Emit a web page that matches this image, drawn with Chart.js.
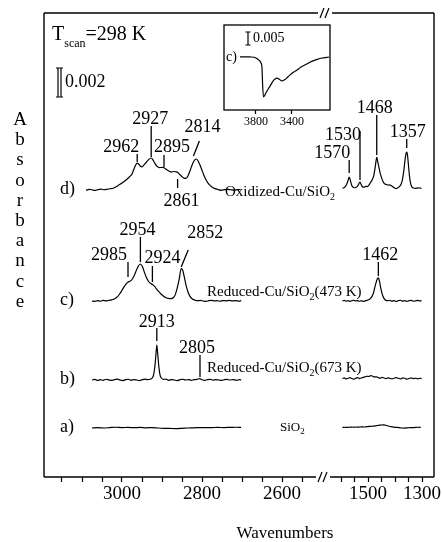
<!DOCTYPE html>
<html>
<head>
<meta charset="utf-8">
<script src="https://cdn.jsdelivr.net/npm/chart.js@4.4.1/dist/chart.umd.min.js"></script>
<style>
  html, body { margin: 0; padding: 0; background: #fff; }
  #wrap { position: relative; width: 443px; height: 542px; }
  #main { position: absolute; left: 0; top: 0; }
  #inset { position: absolute; left: 214px; top: 15px; }
</style>
</head>
<body>
<div id="wrap">
  <canvas id="main" width="443" height="542"></canvas>
  <canvas id="inset" width="126" height="125"></canvas>
</div>
<script>
// ---- Spectra: [wavenumber (cm^-1), absorbance (x10^-3)] ----
// d) Oxidized-Cu/SiO2, C-H stretching region
const specD_CH = [[3090,0.00],[3082,0.04],[3075,0.02],[3068,-0.03],[3060,0.03],[3052,0.06],[3045,0.02],[3037,0.05],[3030,0.09],[3022,0.12],[3014,0.24],[3006,0.38],[3000,0.48],[2993,0.62],[2987,0.76],[2981,0.92],[2976,1.06],[2971,1.38],[2966,1.72],[2962,1.86],[2958,1.78],[2954,1.64],[2950,1.60],[2945,1.74],[2940,1.90],[2934,2.08],[2927,2.21],[2922,2.05],[2917,1.80],[2912,1.62],[2906,1.55],[2900,1.56],[2895,1.54],[2889,1.42],[2883,1.32],[2877,1.24],[2871,1.28],[2866,1.26],[2861,1.22],[2856,1.08],[2850,0.92],[2845,0.82],[2840,0.80],[2835,0.98],[2829,1.40],[2823,1.85],[2818,2.08],[2814,2.14],[2810,2.02],[2805,1.72],[2800,1.36],[2795,1.00],[2789,0.66],[2783,0.40],[2776,0.22],[2768,0.10],[2760,0.04],[2752,-0.02],[2744,0.03],[2736,0.05],[2728,0.02],[2720,-0.01],[2712,0.03],[2704,0.04]];
// d) Oxidized-Cu/SiO2, fingerprint region
const specD_FP = [[1595,0.12],[1588,0.18],[1582,0.30],[1576,0.55],[1570,0.90],[1565,0.62],[1560,0.30],[1554,0.18],[1548,0.16],[1542,0.22],[1536,0.36],[1530,0.55],[1526,0.40],[1521,0.22],[1515,0.20],[1509,0.26],[1503,0.24],[1497,0.34],[1491,0.52],[1485,0.70],[1479,1.00],[1474,1.55],[1471,1.95],[1468,2.28],[1465,2.02],[1461,1.66],[1456,1.22],[1450,0.84],[1444,0.56],[1438,0.42],[1432,0.38],[1426,0.34],[1420,0.36],[1414,0.30],[1408,0.22],[1402,0.14],[1396,0.10],[1390,0.16],[1384,0.24],[1378,0.40],[1373,0.70],[1368,1.30],[1363,2.10],[1360,2.50],[1357,2.62],[1354,2.40],[1351,1.80],[1347,1.00],[1343,0.50],[1338,0.22],[1332,0.14],[1324,0.12],[1316,0.15],[1308,0.13],[1302,0.12]];
// c) Reduced-Cu/SiO2 (473 K)
const specC_CH = [[3075,0.00],[3068,-0.03],[3061,0.03],[3054,-0.02],[3047,0.04],[3040,0.00],[3033,0.05],[3026,0.08],[3019,0.14],[3012,0.28],[3006,0.48],[3000,0.74],[2995,0.97],[2990,1.16],[2985,1.30],[2980,1.36],[2975,1.48],[2970,1.72],[2965,2.05],[2960,2.36],[2954,2.55],[2949,2.38],[2944,1.98],[2939,1.62],[2934,1.36],[2929,1.22],[2924,1.14],[2919,1.02],[2914,0.84],[2908,0.64],[2902,0.46],[2896,0.32],[2890,0.22],[2884,0.18],[2878,0.16],[2872,0.22],[2867,0.42],[2862,0.88],[2857,1.50],[2852,2.24],[2848,2.10],[2844,1.62],[2840,1.10],[2835,0.62],[2830,0.32],[2824,0.14],[2818,0.06],[2811,0.02],[2804,0.04],[2797,0.00],[2790,-0.03],[2783,0.02],[2776,0.04],[2769,0.00],[2762,0.02],[2755,-0.02],[2748,0.03],[2740,0.01],[2732,0.04],[2724,0.00],[2716,0.02],[2708,-0.01],[2702,0.02]];
const specC_FP = [[1595,0.00],[1588,0.04],[1581,-0.02],[1574,0.03],[1567,-0.03],[1560,0.02],[1553,0.05],[1546,0.00],[1539,0.03],[1532,-0.02],[1525,0.02],[1518,-0.03],[1511,0.01],[1504,0.04],[1498,0.08],[1492,0.16],[1486,0.30],[1480,0.56],[1475,0.95],[1470,1.30],[1466,1.52],[1462,1.59],[1458,1.38],[1454,0.98],[1450,0.62],[1445,0.32],[1440,0.14],[1434,0.04],[1428,0.02],[1420,0.05],[1412,-0.02],[1404,0.03],[1396,-0.04],[1388,0.02],[1380,0.05],[1372,-0.01],[1364,0.03],[1356,-0.03],[1348,0.02],[1340,0.04],[1332,-0.02],[1324,0.01],[1316,0.04],[1308,0.00],[1302,0.02]];
// b) Reduced-Cu/SiO2 (673 K)
const specB_CH = [[3075,0.00],[3068,0.04],[3061,-0.03],[3054,0.02],[3047,-0.02],[3040,0.05],[3033,0.01],[3026,-0.03],[3019,0.03],[3012,0.06],[3005,0.00],[2998,-0.04],[2991,0.02],[2984,0.05],[2977,-0.02],[2970,0.03],[2963,0.00],[2956,-0.04],[2949,0.03],[2942,0.06],[2936,0.02],[2930,0.05],[2925,0.12],[2921,0.35],[2918,0.90],[2915,1.80],[2913,2.41],[2911,1.90],[2908,0.95],[2905,0.35],[2901,0.12],[2896,0.04],[2890,0.06],[2883,-0.02],[2876,0.03],[2869,0.00],[2862,-0.04],[2855,0.02],[2848,0.05],[2841,0.00],[2834,0.03],[2827,-0.02],[2820,0.02],[2813,0.04],[2806,0.10],[2800,0.02],[2793,-0.03],[2786,0.02],[2779,0.04],[2772,-0.01],[2765,0.03],[2758,0.00],[2751,-0.03],[2744,0.02],[2737,0.04],[2730,0.00],[2722,0.03],[2714,-0.02],[2707,0.02],[2702,0.01]];
const specB_FP = [[1595,0.10],[1588,0.14],[1581,0.08],[1574,0.12],[1567,0.16],[1560,0.10],[1553,0.06],[1546,0.12],[1539,0.16],[1532,0.10],[1525,0.14],[1518,0.18],[1511,0.22],[1504,0.26],[1497,0.24],[1490,0.30],[1483,0.26],[1476,0.20],[1469,0.22],[1462,0.16],[1455,0.12],[1448,0.18],[1441,0.14],[1434,0.10],[1427,0.14],[1420,0.12],[1412,0.08],[1404,0.12],[1396,0.16],[1388,0.12],[1380,0.08],[1372,0.14],[1364,0.12],[1356,0.06],[1348,0.10],[1340,0.14],[1332,0.10],[1324,0.12],[1316,0.08],[1308,0.12],[1302,0.10]];
// a) SiO2
const specA_CH = [[3075,0.00],[3060,0.02],[3045,0.00],[3030,0.03],[3015,0.05],[3000,0.03],[2985,0.04],[2970,0.02],[2955,0.04],[2940,0.01],[2925,0.03],[2910,0.00],[2895,-0.02],[2880,-0.03],[2865,-0.04],[2850,-0.02],[2835,0.00],[2820,0.01],[2805,0.03],[2790,0.02],[2775,0.03],[2760,0.04],[2745,0.03],[2730,0.04],[2715,0.05],[2702,0.04]];
const specA_FP = [[1595,0.03],[1585,0.05],[1575,0.04],[1565,0.06],[1555,0.05],[1545,0.07],[1535,0.06],[1525,0.08],[1515,0.07],[1505,0.09],[1495,0.11],[1485,0.12],[1475,0.14],[1465,0.17],[1455,0.20],[1445,0.22],[1435,0.19],[1425,0.14],[1415,0.09],[1405,0.06],[1395,0.04],[1385,0.02],[1375,0.00],[1365,-0.01],[1355,0.01],[1345,0.03],[1335,0.02],[1325,0.04],[1315,0.05],[1305,0.04]];
// Inset: trace c) in the O-H stretching region
const insetC_OH = [[3978,0.0],[3920,0.05],[3867,0.0],[3820,-0.1],[3800,-0.4],[3767,-1.2],[3744,-2.3],[3733,-4.2],[3726,-10.8],[3717,-15.4],[3700,-14.6],[3689,-13.8],[3667,-12.5],[3644,-11.2],[3620,-9.8],[3600,-8.8],[3567,-8.1],[3544,-8.5],[3511,-9.2],[3478,-8.7],[3450,-7.8],[3422,-6.9],[3380,-5.8],[3344,-5.0],[3300,-3.9],[3256,-3.1],[3210,-2.2],[3167,-1.5],[3120,-0.9],[3067,-0.4],[2989,0.0]];

// Vertical stacking of the traces (absorbance x10^-3)
const traceNames = ['a)', 'b)', 'c)', 'd)'];
const traceOffsets = [3.38, 6.69, 12.14, 19.79];

// Marked band positions (cm^-1)
const peaksD = [2962, 2927, 2895, 2861, 2814, 1570, 1530, 1468, 1357];
const peaksC = [2985, 2954, 2924, 2852, 1462];
const peaksB = [2913, 2805];

// Axis ticks
const ticksLeft = [3150, 3100, 3050, 3000, 2950, 2900, 2850, 2800, 2750, 2700, 2650, 2600, 2550];
const labelsLeft = [3000, 2800, 2600];
const ticksRight = [1600, 1550, 1500, 1450, 1400, 1350, 1300];
const labelsRight = [1500, 1300];
const ticksInset = [3800, 3400];

// Scale bars (absorbance)
const scaleBarMain = 0.002;
const scaleBarInset = 0.005;

// ---- Drawing ----
const SERIF = '"Liberation Serif", "Times New Roman", serif';
Chart.defaults.font.family = SERIF;
Chart.defaults.color = '#000';

const lineStyle = {
  borderColor: '#000', borderWidth: 1.2, pointRadius: 0, fill: false,
  cubicInterpolationMode: 'monotone', yAxisID: 'y'
};
function trace(points, offset, axisId) {
  return Object.assign({ data: points.map(([w, a]) => ({ x: w, y: a + offset })), xAxisID: axisId }, lineStyle);
}

// Label placement per marked band: text centre offset, text baseline, tick span (or slash)
const peakLayout = {
  2962: { dx: -16, ty: 152, t: [154, 162] },
  2927: { dx: -1, ty: 124, t: [126, 157] },
  2895: { dx: 8, ty: 152, t: [155, 167] },
  2861: { dx: 4, ty: 206, t: [179, 188] },
  2814: { dx: 6, ty: 132, s: [[-3, 156], [3, 141]] },
  1570: { dx: -17, ty: 158, t: [160, 173] },
  1530: { dx: -17, ty: 140, t: [131, 180] },
  1468: { dx: -2, ty: 113, t: [115, 155] },
  1357: { dx: 1, ty: 137, t: [139, 148] },
  2985: { dx: -19, ty: 260, t: [262, 277] },
  2954: { dx: -3, ty: 235, t: [237, 262] },
  2924: { dx: 10, ty: 263, t: [266, 282] },
  2852: { dx: 24, ty: 238, s: [[0, 267], [7, 250]] },
  1462: { dx: 2, ty: 260, t: [262, 276] },
  2913: { dx: 0, ty: 327, t: [328, 341] },
  2805: { dx: -3, ty: 353, t: [355, 377] }
};

function textRuns(ctx, x, y, runs) {
  // runs: [text, fontSize, baselineShift]
  let cx = x;
  for (const [t, size, dy] of runs) {
    ctx.font = size + 'px ' + SERIF;
    ctx.fillText(t, cx, y + dy);
    cx += ctx.measureText(t).width;
  }
}

function breakMark(ctx, x, y) {
  ctx.save();
  ctx.fillStyle = '#fff';
  ctx.fillRect(x - 2, y - 2, 14, 4);
  ctx.restore();
  ctx.beginPath();
  ctx.moveTo(x, y + 5); ctx.lineTo(x + 4, y - 5);
  ctx.moveTo(x + 5, y + 5); ctx.lineTo(x + 9, y - 5);
  ctx.stroke();
}

const decorations = {
  id: 'decorations',
  afterDraw(chart) {
    const { ctx, chartArea: ca, scales } = chart;
    const y = scales.y;
    ctx.save();
    ctx.strokeStyle = '#000';
    ctx.fillStyle = '#000';

    // frame with axis break
    ctx.lineWidth = 1.4;
    ctx.beginPath();
    ctx.moveTo(ca.left, ca.top); ctx.lineTo(ca.left, ca.bottom);
    ctx.moveTo(ca.right, ca.top); ctx.lineTo(ca.right, ca.bottom);
    ctx.moveTo(ca.left, ca.top); ctx.lineTo(ca.right, ca.top);
    ctx.moveTo(ca.left, ca.bottom); ctx.lineTo(ca.right, ca.bottom);
    ctx.stroke();
    ctx.lineWidth = 1.2;
    breakMark(ctx, 320, ca.top);
    breakMark(ctx, 318, ca.bottom);

    // trace letters
    ctx.textBaseline = 'middle';
    ctx.textAlign = 'left';
    ctx.font = '18px ' + SERIF;
    traceNames.forEach((n, i) => ctx.fillText(n, 60, y.getPixelForValue(traceOffsets[i]) - 1));

    // sample labels
    ctx.textBaseline = 'alphabetic';
    textRuns(ctx, 225, 196, [['Oxidized-Cu/SiO', 15, 0], ['2', 10, 4]]);
    textRuns(ctx, 207, 296, [['Reduced-Cu/SiO', 15, 0], ['2', 10, 4], ['(473 K)', 15, 0]]);
    textRuns(ctx, 207, 372, [['Reduced-Cu/SiO', 15, 0], ['2', 10, 4], ['(673 K)', 15, 0]]);
    textRuns(ctx, 280, 431, [['SiO', 13, 0], ['2', 9, 3]]);

    // marked bands
    ctx.font = '18px ' + SERIF;
    ctx.textAlign = 'center';
    ctx.lineWidth = 1.3;
    const mark = (w, axisId) => {
      const L = peakLayout[w];
      const px = scales[axisId].getPixelForValue(w);
      ctx.fillText(String(w), px + L.dx, L.ty);
      ctx.beginPath();
      if (L.t) { ctx.moveTo(px, L.t[0]); ctx.lineTo(px, L.t[1]); }
      else { ctx.moveTo(px + L.s[0][0], L.s[0][1]); ctx.lineTo(px + L.s[1][0], L.s[1][1]); }
      ctx.stroke();
    };
    [...peaksD, ...peaksC, ...peaksB].forEach(w => mark(w, w > 2000 ? 'xL' : 'xR'));

    // scan temperature
    ctx.textAlign = 'left';
    textRuns(ctx, 52, 40, [['T', 20, 0], ['scan', 12, 7], ['=298 K', 20, 0]]);

    // absorbance scale bar
    const barTop = 68;
    const barLen = y.getPixelForValue(0) - y.getPixelForValue(scaleBarMain * 1000);
    ctx.lineWidth = 1.2;
    ctx.beginPath();
    ctx.moveTo(58, barTop); ctx.lineTo(58, barTop + barLen);
    ctx.moveTo(61, barTop); ctx.lineTo(61, barTop + barLen);
    ctx.moveTo(56, barTop); ctx.lineTo(63, barTop);
    ctx.moveTo(56, barTop + barLen); ctx.lineTo(63, barTop + barLen);
    ctx.stroke();
    ctx.font = '18px ' + SERIF;
    ctx.textBaseline = 'middle';
    ctx.fillText(String(scaleBarMain), 65, barTop + barLen / 2);

    // axis titles
    ctx.textAlign = 'center';
    ctx.font = '19px ' + SERIF;
    'Absorbance'.split('').forEach((ch, i) => ctx.fillText(ch, 20, 120 + i * 20.2));
    ctx.font = '17px ' + SERIF;
    ctx.textBaseline = 'alphabetic';
    ctx.fillText('Wavenumbers', 285, 538);
    ctx.restore();
  }
};

function xAxis(min, max, tickVals, labelVals) {
  return {
    type: 'linear', axis: 'x', reverse: true, min, max,
    position: { y: 0 },
    border: { display: false },
    grid: { drawOnChartArea: false, drawTicks: true, tickLength: 5, color: '#000', tickWidth: 1.2 },
    afterBuildTicks: (s) => { s.ticks = tickVals.map(v => ({ value: v })); },
    ticks: {
      autoSkip: false, maxRotation: 0, padding: 1, color: '#000',
      font: { size: 19, family: SERIF },
      callback: (v) => labelVals.includes(v) ? String(v) : ''
    }
  };
}

new Chart(document.getElementById('main'), {
  type: 'line',
  data: {
    datasets: [
      trace(specD_CH, traceOffsets[3], 'xL'), trace(specD_FP, traceOffsets[3], 'xR'),
      trace(specC_CH, traceOffsets[2], 'xL'), trace(specC_FP, traceOffsets[2], 'xR'),
      trace(specB_CH, traceOffsets[1], 'xL'), trace(specB_FP, traceOffsets[1], 'xR'),
      trace(specA_CH, traceOffsets[0], 'xL'), trace(specA_FP, traceOffsets[0], 'xR')
    ]
  },
  options: {
    responsive: false, animation: false, devicePixelRatio: 1,
    layout: { padding: { left: 44, top: 13, right: 9, bottom: 65 } },
    plugins: { legend: { display: false }, tooltip: { enabled: false } },
    scales: {
      y: { type: 'linear', display: false, min: 0, max: 32 },
      xL: xAxis(2220, 3195, ticksLeft, labelsLeft),
      xR: xAxis(1256, 2700, ticksRight, labelsRight)
    }
  },
  plugins: [decorations]
});

// ---- Inset ----
const insetFrame = {
  id: 'insetFrame',
  afterDraw(chart) {
    const { ctx, chartArea: ca, scales } = chart;
    ctx.save();
    ctx.strokeStyle = '#000'; ctx.fillStyle = '#000';
    ctx.lineWidth = 1.3;
    ctx.strokeRect(ca.left, ca.top, ca.right - ca.left, ca.bottom - ca.top);
    // scale bar
    const len = scales.y.getPixelForValue(0) - scales.y.getPixelForValue(scaleBarInset * 1000);
    const bx = 34, by = 17;
    ctx.lineWidth = 1.2;
    ctx.beginPath();
    ctx.moveTo(bx, by); ctx.lineTo(bx, by + len);
    ctx.moveTo(bx - 2.5, by); ctx.lineTo(bx + 2.5, by);
    ctx.moveTo(bx - 2.5, by + len); ctx.lineTo(bx + 2.5, by + len);
    ctx.stroke();
    ctx.font = '14px ' + SERIF;
    ctx.textBaseline = 'middle';
    ctx.fillText(String(scaleBarInset), bx + 5, by + len / 2);
    ctx.fillText('c)', ca.left + 2, scales.y.getPixelForValue(0));
    ctx.restore();
  }
};

new Chart(document.getElementById('inset'), {
  type: 'line',
  data: {
    datasets: [Object.assign({ data: insetC_OH.map(([w, a]) => ({ x: w, y: a })), xAxisID: 'x' }, lineStyle)]
  },
  options: {
    responsive: false, animation: false, devicePixelRatio: 1,
    layout: { padding: { left: 10, top: 10, right: 10, bottom: 30 } },
    plugins: { legend: { display: false }, tooltip: { enabled: false } },
    scales: {
      y: { type: 'linear', display: false, min: -20.4, max: 12.3 },
      x: {
        type: 'linear', reverse: true, min: 2978, max: 4155,
        position: { y: -20.4 },
        border: { display: false },
        grid: { drawOnChartArea: false, tickLength: 4, color: '#000', tickWidth: 1.2 },
        afterBuildTicks: (s) => { s.ticks = ticksInset.map(v => ({ value: v })); },
        ticks: {
          autoSkip: false, maxRotation: 0, padding: 1, color: '#000',
          font: { size: 12, family: SERIF },
          callback: (v) => String(v)
        }
      }
    }
  },
  plugins: [insetFrame]
});
</script>
</body>
</html>
